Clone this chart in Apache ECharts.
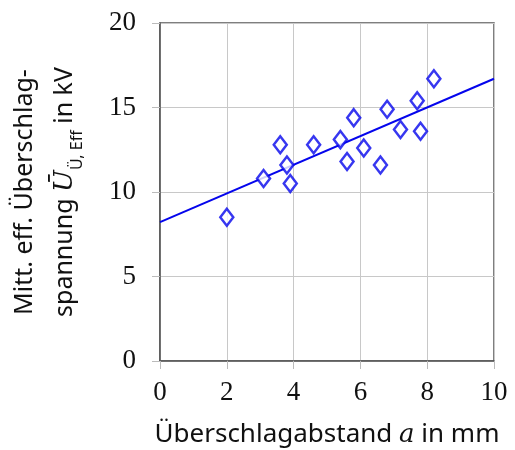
<!DOCTYPE html>
<html>
<head>
<meta charset="utf-8">
<script src="https://cdn.jsdelivr.net/npm/echarts@6/dist/echarts.min.js"></script>
<style>
  html, body { margin: 0; padding: 0; background: #fff; }
  #chart { width: 515px; height: 450px; }
</style>
</head>
<body>
<div id="chart"></div>
<script>
// Messpunkte: Überschlagabstand a (mm) und mittlere eff. Überschlagspannung (kV)
var abstand = [2.0, 3.1, 3.6, 3.8, 3.9, 4.6, 5.4, 5.6, 5.8, 6.1, 6.6, 6.8, 7.2, 7.7, 7.8, 8.2];
var spannung = [8.5, 10.8, 12.8, 11.6, 10.5, 12.8, 13.1, 11.8, 14.4, 12.6, 11.6, 14.9, 13.7, 15.4, 13.6, 16.7];

// Ausgleichsgerade
var fitX = [0, 10];
var fitY = [8.22, 16.7];

var xTicks = [0, 2, 4, 6, 8, 10];
var yTicks = [0, 5, 10, 15, 20];

var blau = '#0505ec';

let myChart = echarts.init(document.getElementById('chart'));

let punkte = abstand.map(function (x, i) { return [x, spannung[i]]; });
let gerade = fitX.map(function (x, i) { return [x, fitY[i]]; });

let option = {
    animation: false,
    backgroundColor: '#fff',
    grid: {
        left: 160,
        right: 21,
        top: 23,
        bottom: 89,
        outerBoundsMode: 'none',
        containLabel: false,
        show: true,
        borderColor: '#555',
        borderWidth: 1.5
    },
    xAxis: {
        type: 'value',
        min: xTicks[0],
        max: xTicks[xTicks.length - 1],
        interval: 2,
        name: 'Überschlagabstand {i|a} in mm',
        nameLocation: 'middle',
        nameGap: 61,
        nameTextStyle: {
            fontFamily: 'Noto Sans',
            fontSize: 26,
            color: '#111',
            rich: {
                i: { fontFamily: 'DejaVu Serif', fontStyle: 'italic', fontSize: 26, color: '#111' }
            }
        },
        axisLine: { show: true, lineStyle: { color: '#555', width: 1.5 } },
        axisTick: { show: true, length: 8, lineStyle: { color: '#bbb' } },
        splitLine: { show: true, lineStyle: { color: '#c8c8c8', width: 1 } },
        axisLabel: {
            fontFamily: 'Liberation Serif',
            fontSize: 27,
            color: '#111',
            margin: 18
        }
    },
    yAxis: {
        type: 'value',
        min: yTicks[0],
        max: yTicks[yTicks.length - 1],
        interval: 5,
        name: 'Mitt. eff. Überschlag-\nspannung {u|U\u0304}{s|Ü, Eff} in kV',
        nameLocation: 'middle',
        nameGap: 75,
        nameRotate: 90,
        nameTextStyle: {
            fontFamily: 'Noto Sans',
            fontSize: 25,
            color: '#111',
            lineHeight: 40,
            rich: {
                u: { fontFamily: 'DejaVu Serif', fontStyle: 'italic', fontSize: 26, color: '#111', lineHeight: 40 },
                s: { fontFamily: 'Noto Sans', fontSize: 16, color: '#111', verticalAlign: 'bottom', lineHeight: 34 }
            }
        },
        axisLine: { show: true, lineStyle: { color: '#555', width: 1.5 } },
        axisTick: { show: true, length: 8, lineStyle: { color: '#bbb' } },
        splitLine: { show: true, lineStyle: { color: '#c8c8c8', width: 1 } },
        axisLabel: {
            fontFamily: 'Liberation Serif',
            fontSize: 27,
            color: '#111',
            margin: 24
        }
    },
    series: [
        {
            type: 'line',
            data: gerade,
            symbol: 'none',
            lineStyle: { color: blau, width: 2 },
            z: 2
        },
        {
            type: 'scatter',
            data: punkte,
            symbol: 'diamond',
            symbolSize: [13, 17],
            itemStyle: { color: '#fff', borderColor: blau, borderWidth: 2.5 },
            z: 3
        }
    ]
};

myChart.setOption(option);
</script>
</body>
</html>
